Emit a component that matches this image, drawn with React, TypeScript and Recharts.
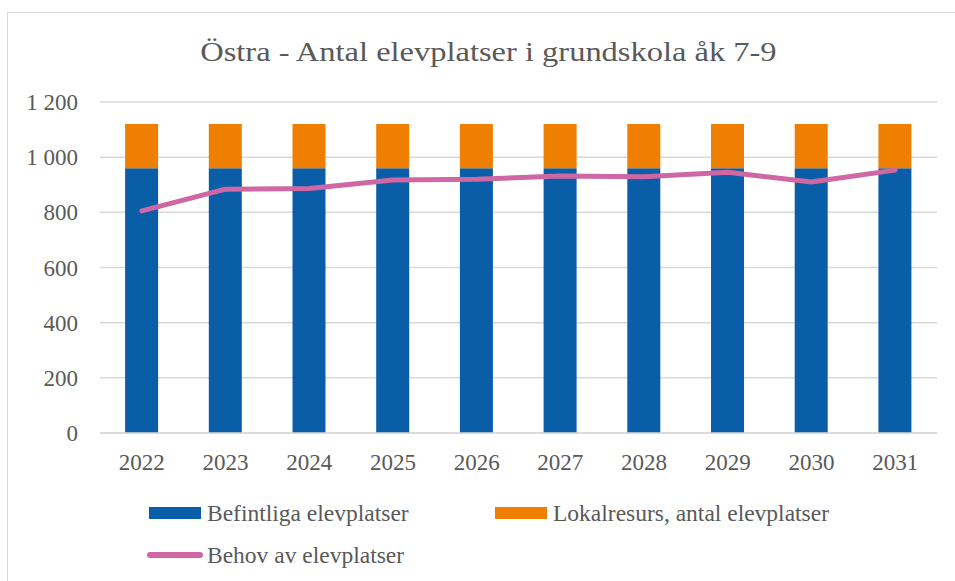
import { Bar, CartesianGrid, ComposedChart, Legend, Line, XAxis, YAxis } from "recharts";

const years = ["2022", "2023", "2024", "2025", "2026", "2027", "2028", "2029", "2030", "2031"];
const befintliga = [960, 960, 960, 960, 960, 960, 960, 960, 960, 960];
const lokalresurs = [160, 160, 160, 160, 160, 160, 160, 160, 160, 160];
const behov = [805, 884, 886, 917, 920, 932, 929, 945, 910, 953];
const yTicks = [0, 200, 400, 600, 800, 1000, 1200];

const BLUE = "#0A5EA8";
const ORANGE = "#EF7F00";
const PINK = "#CE67A3";
const TEXT = "#595959";
const GRID = "#D9D9D9";
const FONT = "Liberation Serif";

const data = years.map((year, i) => ({
  year,
  befintliga: befintliga[i],
  lokalresurs: lokalresurs[i],
  behov: behov[i],
}));

const fmt = (v: number) => (v >= 1000 ? `${Math.floor(v / 1000)} ${String(v % 1000).padStart(3, "0")}` : String(v));

const legendItems = [
  { name: "Befintliga elevplatser", color: BLUE, kind: "rect", left: 149, top: 500 },
  { name: "Lokalresurs, antal elevplatser", color: ORANGE, kind: "rect", left: 495, top: 500 },
  { name: "Behov av elevplatser", color: PINK, kind: "line", left: 147, top: 542 },
];

function LegendContent() {
  return (
    <div style={{ position: "relative", width: 955, height: 581 }}>
      {legendItems.map((it) => (
        <div
          key={it.name}
          style={{
            position: "absolute",
            left: it.left,
            top: it.top,
            height: 26,
            display: "flex",
            alignItems: "center",
            fontFamily: FONT,
            fontSize: 23.5,
            color: TEXT,
            whiteSpace: "nowrap",
          }}
        >
          {it.kind === "rect" ? (
            <span style={{ display: "inline-block", width: 52, height: 12, background: it.color, marginRight: 6 }} />
          ) : (
            <span style={{ display: "inline-block", width: 56, height: 6, borderRadius: 3, background: it.color, marginRight: 4 }} />
          )}
          {it.name}
        </div>
      ))}
    </div>
  );
}

export default function App() {
  return (
    <div style={{ position: "relative", width: 955, height: 581, overflow: "hidden", background: "#fff", fontFamily: FONT }}>
      <style>{`body{margin:0}`}</style>
      <div
        style={{
          position: "absolute",
          left: 7,
          top: 12,
          width: 980,
          height: 600,
          border: `1.5px solid ${GRID}`,
          boxSizing: "border-box",
        }}
      />
      <div
        style={{
          position: "absolute",
          left: 0,
          top: 38,
          width: 955,
          textAlign: "center",
          fontFamily: FONT,
          fontSize: 28,
          lineHeight: "28px",
          color: TEXT,
          paddingLeft: 22,
          boxSizing: "border-box",
        }}
      >
        <span style={{ display: "inline-block", transform: "scaleX(1.16)", transformOrigin: "center" }}>
          Östra - Antal elevplatser i grundskola åk 7-9
        </span>
      </div>
      <div style={{ position: "absolute", left: 0, top: 0 }}>
        <ComposedChart
          width={955}
          height={581}
          data={data}
          margin={{ top: 102, right: 18, left: 0, bottom: 118 }}
          barCategoryGap="30%"
          style={{ fontFamily: FONT }}
        >
          <CartesianGrid horizontal vertical={false} stroke={GRID} strokeWidth={1.5} />
          <XAxis
            dataKey="year"
            height={30}
            tickLine={false}
            axisLine={{ stroke: GRID, strokeWidth: 1.5 }}
            tickMargin={15}
            tick={{ fontSize: 23, fill: TEXT, fontFamily: FONT }}
          />
          <YAxis
            width={100}
            domain={[0, 1200]}
            ticks={yTicks}
            tickFormatter={fmt}
            tickLine={false}
            axisLine={false}
            tickMargin={16}
            tick={{ fontSize: 23, fill: TEXT, fontFamily: FONT }}
          />
          <Bar dataKey="befintliga" stackId="a" fill={BLUE} isAnimationActive={false} />
          <Bar dataKey="lokalresurs" stackId="a" fill={ORANGE} isAnimationActive={false} />
          <Line
            dataKey="behov"
            type="linear"
            stroke={PINK}
            strokeWidth={5}
            strokeLinecap="round"
            strokeLinejoin="round"
            dot={false}
            isAnimationActive={false}
          />
          <Legend
            layout="horizontal"
            verticalAlign="middle"
            content={() => <LegendContent />}
            wrapperStyle={{ left: 0, top: 0, width: 955, height: 581, pointerEvents: "none" }}
          />
        </ComposedChart>
      </div>
    </div>
  );
}
